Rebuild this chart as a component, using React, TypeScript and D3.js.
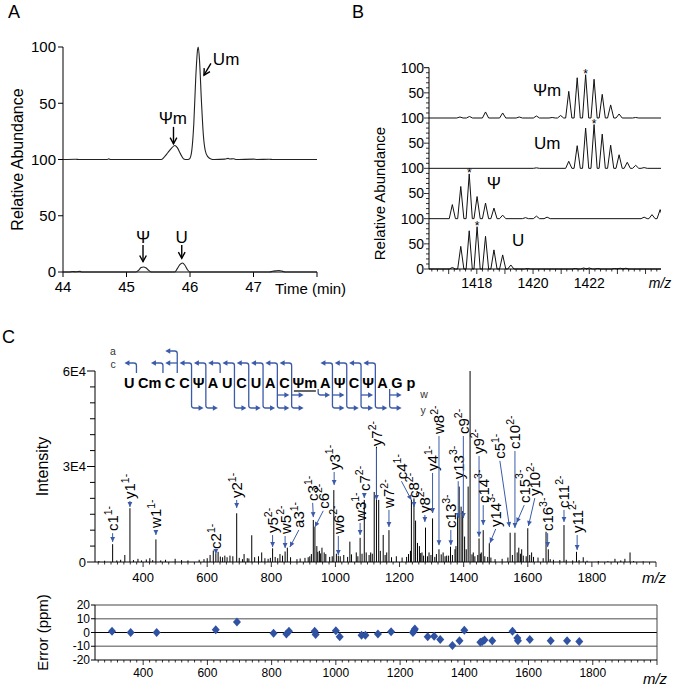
import React from "react";
import * as d3 from "d3";

const FONT = "'Liberation Sans', Arial, Helvetica, sans-serif";
const BLUE = "#3b5ba9";

// ---------- Panel A: chromatograms (time in min, relative abundance) ----------
const timeTicks = [44, 45, 46, 47, 48];
const timeTickLabels = ["44", "45", "46", "47", ""];
const abundanceTicks = [0, 50, 100, 150, 200];
const abundanceTickLabels = ["0", "50", "100", "50", "100"];

const chromModified: [number, number][] = [
  [44.0, 0], [44.2, 0.2], [44.25, 0], [44.7, 0], [44.72, 0.6], [44.75, 0], [45.5, 0],
  [45.55, 0], [45.6, 2.5], [45.65, 6], [45.7, 9.5], [45.76, 12.5], [45.8, 10.5], [45.85, 5],
  [45.9, 0.5], [45.95, 0], [45.99, 0.5], [46.02, 5], [46.06, 32], [46.09, 72], [46.12, 98],
  [46.13, 100], [46.15, 88], [46.18, 52], [46.21, 22], [46.24, 8], [46.28, 2.5], [46.33, 0.5],
  [46.38, 0], [46.55, 0.3], [46.6, 1], [46.63, 0.4], [46.68, 0.7], [46.72, 0], [47.0, 0.3],
  [47.05, 0], [47.25, 0.2], [47.3, 0], [48.0, 0],
];
const chromUnmodified: [number, number][] = [
  [44.0, 0], [44.1, 0], [44.15, 0.4], [44.2, 0.2], [44.27, 0.6], [44.3, 0], [45.15, 0],
  [45.19, 1.5], [45.23, 4], [45.27, 4.5], [45.31, 3.5], [45.35, 1.5], [45.39, 0], [45.76, 0],
  [45.8, 3], [45.84, 6.5], [45.88, 8], [45.92, 6], [45.96, 2], [46.0, 0], [47.25, 0],
  [47.3, 0.6], [47.35, 1], [47.4, 1.3], [47.45, 0.8], [47.5, 0], [48.0, 0],
];
const chromNotes = [
  { label: "Um", tx: 46.36, ty: 189.5, anchor: "start", from: [46.33, 185.5], to: [46.22, 175] },
  { label: "Ψm", tx: 45.73, ty: 137, anchor: "middle", from: [45.74, 129], to: [45.74, 114] },
  { label: "Ψ", tx: 45.26, ty: 31.4, anchor: "middle", from: [45.26, 24], to: [45.26, 9.2] },
  { label: "U", tx: 45.87, ty: 31.4, anchor: "middle", from: [45.87, 24], to: [45.87, 12.2] },
];

// ---------- Panel B: isotope envelopes (m/z, % relative) ----------
const isoNames = ["Ψm", "Um", "Ψ", "U"];
const isoPsiM: [number, number][] = [
  [1417.4, 2], [1417.74, 3], [1418.31, 12], [1418.92, 10], [1419.51, 2], [1420.12, 4],
  [1420.68, 1], [1420.98, 5], [1421.27, 53], [1421.57, 80], [1421.87, 86], [1422.17, 77],
  [1422.46, 47], [1422.76, 26], [1423.06, 8], [1423.65, 1],
];
const isoUm: [number, number][] = [
  [1420.12, 1], [1421.27, 14], [1421.57, 45], [1421.87, 80], [1422.17, 87], [1422.46, 68],
  [1422.76, 46], [1423.06, 27], [1423.35, 12], [1423.65, 6], [1423.95, 1.5],
];
const isoPsi: [number, number][] = [
  [1417.13, 28], [1417.43, 64], [1417.73, 89], [1418.01, 44], [1418.31, 31], [1418.61, 21],
  [1418.92, 7], [1419.73, 2], [1420.12, 5], [1420.5, 3], [1423.95, 3], [1424.23, 8], [1424.52, 18],
];
const isoU: [number, number][] = [
  [1417.13, 3], [1417.43, 45], [1417.73, 76], [1418.01, 84], [1418.31, 65], [1418.61, 38],
  [1418.92, 28], [1419.21, 8], [1419.8, 1], [1421.5, 1], [1421.8, 2], [1422.0, 2], [1422.3, 1],
  [1422.9, 1], [1423.1, 1.5], [1423.3, 1.5],
];
const isoStars = [1421.87, 1422.17, 1417.73, 1418.01];
const isoNamePos: [number, number][] = [[1420.5, 56], [1420.5, 50], [1418.61, 71], [1419.47, 58]];
const mzTicksB = [1418, 1420, 1422];

// ---------- Panel C: MS/MS spectrum ----------
const spectrumPeaks: [number, number][] = [
  [305, 5600], [343, 2200], [359, 16900], [384, 1000], [421, 1200], [440, 7100], [500, 1000],
  [609, 2200], [619, 3600], [627, 2600], [634, 3200], [648, 1500], [671, 2000], [680, 1800],
  [692, 15300], [715, 2500], [725, 1200], [739, 8400], [770, 3000], [790, 1000], [804, 4300],
  [827, 2500], [843, 3300], [850, 4500], [915, 1500], [925, 2500], [931, 13200], [936, 11000],
  [942, 5000], [950, 3500], [958, 4500], [965, 3000], [995, 22600], [1009, 2000], [1045, 6400],
  [1065, 3000], [1077, 7600], [1090, 19500], [1110, 3000], [1121, 22000], [1128, 36200],
  [1135, 19500], [1149, 8500], [1160, 3000], [1167, 10000], [1228, 2500], [1237, 19500],
  [1245, 20000], [1250, 13000], [1256, 6000], [1262, 5000], [1270, 3000], [1281, 10800],
  [1292, 3000], [1303, 13700], [1315, 2500], [1323, 4000], [1336, 3000], [1347, 2000],
  [1359, 4800], [1376, 5000], [1381, 14800], [1386, 23700], [1392, 17400], [1397, 16000],
  [1403, 8000], [1414, 23700], [1420, 60000], [1430, 3000], [1448, 7400], [1455, 3000],
  [1461, 10000], [1480, 5900], [1545, 9200], [1560, 9200], [1572, 4500], [1581, 4000],
  [1600, 10600], [1612, 3000], [1657, 9500], [1664, 4000], [1713, 11600], [1752, 3200],
  [1773, 1500], [1872, 1000], [1903, 1000], [1919, 3000],
];
const spectrumNoise: [number, number][] = [
  [262, 300], [280, 400], [318, 500], [330, 700], [370, 600], [395, 500], [410, 800], [430, 600],
  [455, 500], [470, 700], [520, 600], [540, 500], [575, 700], [590, 900], [600, 1200],
  [641, 1700], [655, 2000], [662, 1500], [700, 1300], [710, 900], [730, 1100], [748, 1500],
  [760, 1800], [780, 1200], [797, 1300], [812, 1600], [820, 1200], [835, 2000], [860, 1500],
  [880, 900], [890, 1100], [905, 1300], [920, 1800], [945, 3200], [953, 2700], [970, 2500],
  [982, 1600], [990, 1800], [1003, 2600], [1015, 1800], [1026, 2200], [1038, 1600],
  [1050, 2400], [1070, 1800], [1083, 2600], [1096, 3000], [1105, 2200], [1115, 2600],
  [1140, 3500], [1155, 2200], [1175, 1500], [1190, 1800], [1208, 1400], [1222, 1600],
  [1234, 3500], [1266, 2800], [1275, 2000], [1287, 1800], [1298, 2200], [1310, 1600],
  [1330, 2400], [1342, 1800], [1353, 2000], [1365, 2200], [1373, 4000], [1408, 4000],
  [1426, 2400], [1435, 1800], [1444, 2200], [1452, 2600], [1466, 1800], [1475, 1600],
  [1485, 1400], [1498, 900], [1520, 1000], [1538, 1400], [1552, 2200], [1567, 3000],
  [1577, 2600], [1586, 2000], [1595, 1800], [1606, 2200], [1618, 1600], [1632, 1400],
  [1648, 1200], [1670, 900], [1680, 700], [1700, 600], [1720, 700], [1740, 500], [1760, 600],
  [1785, 400], [1820, 300], [1850, 300], [1890, 500], [1930, 300], [1960, 200],
];
// ion, charge, tip m/z, tip intensity, text m/z, text-foot intensity
const fragmentLabels: [string, string, number, number, number, number][] = [
  ["c1", "1-", 305, 6300, 305, 9700],
  ["y1", "1-", 359, 17300, 359, 19800],
  ["w1", "1-", 440, 8500, 440, 10700],
  ["c2", "1-", 627, 2500, 627, 4100],
  ["y2", "1-", 692, 17000, 692, 20100],
  ["y5", "2-", 804, 4700, 804, 9100],
  ["w5", "2-", 843, 4400, 843, 8800],
  ["a3", "1-", 858, 4700, 886, 10700],
  ["c3", "1-", 931, 14100, 929, 19200],
  ["c6", "2-", 936, 11000, 962, 16700],
  ["y3", "1-", 996, 24200, 996, 28900],
  ["w6", "2-", 1009, 2200, 1009, 8800],
  ["w3", "1-", 1077, 8500, 1077, 12900],
  ["c7", "2-", 1090, 20100, 1090, 22300],
  ["y7", "2-", 1128, 19500, 1128, 36400],
  ["w7", "2-", 1167, 11000, 1167, 17000],
  ["c4", "1-", 1237, 19500, 1206, 26000],
  ["c8", "2-", 1245, 17300, 1245, 20100],
  ["y8", "2-", 1279, 12600, 1279, 15400],
  ["y4", "1-", 1303, 15400, 1303, 28600],
  ["w8", "2-", 1323, 5300, 1323, 40200],
  ["c13", "3-", 1360, 5300, 1360, 10700],
  ["y13", "3-", 1383, 13800, 1383, 26000],
  ["c9", "2-", 1399, 13800, 1399, 40200],
  ["y9", "2-", 1448, 7900, 1448, 33900],
  ["c14", "3-", 1461, 11600, 1461, 18500],
  ["y14", "3-", 1482, 6000, 1500, 11000],
  ["c5", "1-", 1543, 11000, 1513, 32400],
  ["c10", "2-", 1560, 10700, 1560, 35500],
  ["c15", "3-", 1565, 12300, 1589, 18500],
  ["y10", "2-", 1602, 11300, 1622, 20700],
  ["c16", "3-", 1662, 4700, 1662, 9700],
  ["c11", "2-", 1713, 12600, 1713, 17000],
  ["y11", "2-", 1754, 3800, 1754, 9100],
];
const mzTicksC = [400, 600, 800, 1000, 1200, 1400, 1600, 1800];
const intensityTicks = [0, 30000, 60000];
const intensityTickLabels = ["0", "3E4", "6E4"];

// sequence and observed cleavages (ion number)
const residues = ["U", "Cm", "C", "C", "Ψ", "A", "U", "C", "U", "A", "C", "Ψm", "A", "Ψ", "C", "Ψ", "A", "G"];
const aIons = [3];
const cIons = [1, 2, 3, 4, 5, 6, 7, 8, 9, 10, 11, 13, 14, 15, 16];
const wIons = [1, 3, 5, 6, 7, 8];
const yIons = [1, 2, 3, 4, 5, 7, 8, 9, 10, 11, 13, 14];

// ---------- Error panel (m/z, ppm) ----------
const errorPoints: [number, number][] = [
  [303, 1], [361, 0], [442, 0], [626, 2], [692, 7.6], [806, -0.5], [846, -1], [854, 1],
  [934, 1], [937, -1.5], [1000, 1.2], [1012, -3], [1080, -2], [1092, -2], [1131, -1],
  [1172, 0.5], [1240, 0], [1244, 1.5], [1246, 2.5], [1286, -3], [1306, -2.7], [1325, -5],
  [1363, -9.5], [1385, -6], [1400, 1.7], [1450, -7], [1456, -6.5], [1463, -5.5], [1487, -6],
  [1550, 1], [1565, -4], [1567, -6], [1604, -5], [1669, -6], [1720, -6], [1758, -6.5],
];
const errorTicks = [-20, -10, 0, 10, 20];

function head(x1: number, y1: number, x2: number, y2: number, len = 5, half = 2.6) {
  const a = Math.atan2(y2 - y1, x2 - x1);
  const bx = x2 - len * Math.cos(a);
  const by = y2 - len * Math.sin(a);
  return `M${x2},${y2}L${bx + half * Math.sin(a)},${by - half * Math.cos(a)}L${bx - half * Math.sin(a)},${by + half * Math.cos(a)}Z`;
}
function openHead(x1: number, y1: number, x2: number, y2: number, len = 7) {
  const a = Math.atan2(y2 - y1, x2 - x1);
  const p = (d: number) => `${x2 - len * Math.cos(a + d)},${y2 - len * Math.sin(a + d)}`;
  return `M${p(0.5)}L${x2},${y2}L${p(-0.5)}`;
}

function PanelA() {
  const x = d3.scaleLinear().domain([44, 48]).range([63, 317]);
  const y = d3.scaleLinear().domain([0, 200]).range([272, 47]);
  const upper = d3.line<[number, number]>().x((d) => x(d[0])).y((d) => y(100 + d[1])).curve(d3.curveMonotoneX);
  const lower = d3.line<[number, number]>().x((d) => x(d[0])).y((d) => y(d[1])).curve(d3.curveMonotoneX);
  return (
    <g>
      <text x={8} y={18} fontSize={18}>A</text>
      <text transform={`translate(23,${y(100)}) rotate(-90)`} textAnchor="middle" fontSize={16}>Relative Abundance</text>
      <line x1={x(44)} x2={x(44)} y1={y(200)} y2={y(0)} stroke="#000" />
      <line x1={x(44)} x2={x(48)} y1={y(0)} y2={y(0)} stroke="#000" />
      {abundanceTicks.map((t, i) => (
        <g key={t}>
          <line x1={x(44) - 5} x2={x(44)} y1={y(t)} y2={y(t)} stroke="#000" />
          <text x={x(44) - 7} y={y(t)} dy="0.35em" textAnchor="end" fontSize={15}>{abundanceTickLabels[i]}</text>
        </g>
      ))}
      {timeTicks.map((t, i) => (
        <g key={t}>
          <line x1={x(t)} x2={x(t)} y1={y(0)} y2={y(0) + 5} stroke="#000" />
          <text x={x(t)} y={y(0) + 20} textAnchor="middle" fontSize={15}>{timeTickLabels[i]}</text>
        </g>
      ))}
      <text x={275} y={y(0) + 22} fontSize={15}>Time (min)</text>
      <path d={upper(chromModified) || ""} fill="none" stroke="#222" strokeWidth={1.1} />
      <path d={lower(chromUnmodified) || ""} fill="none" stroke="#222" strokeWidth={1.1} />
      {chromNotes.map((n) => {
        const x1 = x(n.from[0]), y1 = y(n.from[1]), x2 = x(n.to[0]), y2 = y(n.to[1]);
        return (
          <g key={n.label}>
            <text x={x(n.tx)} y={y(n.ty)} dy="0.35em" textAnchor={n.anchor} fontSize={17}>{n.label}</text>
            <line x1={x1} y1={y1} x2={x2} y2={y2} stroke="#000" strokeWidth={1.4} />
            <path d={openHead(x1, y1, x2, y2)} fill="none" stroke="#000" strokeWidth={1.4} />
          </g>
        );
      })}
    </g>
  );
}

function PanelB() {
  const x = d3.scaleLinear().domain([1416.3, 1424.55]).range([429, 661]);
  const base = d3.scaleLinear().domain([0, 3]).range([118, 269]);
  const h = d3.scaleLinear().domain([0, 100]).range([0, 50.3]);
  const traces = [isoPsiM, isoUm, isoPsi, isoU];
  const [d0, d1] = x.domain();
  const minorY = d3.range(0, 100, 10);
  return (
    <g>
      <text x={352} y={18} fontSize={18}>B</text>
      <text transform={`translate(385,${base(1.5)}) rotate(-90)`} textAnchor="middle" fontSize={15}>Relative Abundance</text>
      <defs>
        <clipPath id="clipB"><rect x={429} y={50} width={232} height={220} /></clipPath>
      </defs>
      {traces.map((peaks, k) => {
        const b = base(k);
        const pts: [number, number][] = [[d0, 0]];
        peaks.forEach(([m, v]) => { pts.push([m - 0.11, 0], [m, v], [m + 0.11, 0]); });
        pts.push([d1, 0]);
        const ln = d3.line<[number, number]>().x((d) => x(d[0])).y((d) => b - h(d[1]));
        const star = peaks.find((p) => p[0] === isoStars[k]);
        return (
          <g key={k}>
            <path d={ln(pts) || ""} fill="none" stroke="#111" strokeWidth={1} clipPath="url(#clipB)" />
            {star && <text x={x(star[0])} y={b - h(star[1]) + 3} textAnchor="middle" fontSize={12}>*</text>}
            <text x={x(isoNamePos[k][0])} y={b - h(isoNamePos[k][1])} dy="0.35em" textAnchor="middle" fontSize={17}>{isoNames[k]}</text>
            {minorY.map((v) => (
              <line key={v} x1={v % 50 === 0 ? 424 : 426} x2={429} y1={b - h(v)} y2={b - h(v)} stroke="#000" strokeWidth={0.8} />
            ))}
            <text x={424} y={b - h(100)} dy="0.35em" textAnchor="end" fontSize={14}>100</text>
            <text x={424} y={b - h(50)} dy="0.35em" textAnchor="end" fontSize={14}>50</text>
          </g>
        );
      })}
      <line x1={424} x2={429} y1={base(0) - h(100)} y2={base(0) - h(100)} stroke="#000" />
      <text x={424} y={base(3)} dy="0.35em" textAnchor="end" fontSize={14}>0</text>
      <line x1={429} x2={429} y1={base(0) - h(100)} y2={base(3)} stroke="#000" />
      <line x1={429} x2={661} y1={base(3)} y2={base(3)} stroke="#000" />
      {d3.range(1416.4, 1424.6, 0.2).map((t) => (
        <line key={t} x1={x(t)} x2={x(t)} y1={base(3)} y2={base(3) + (Math.abs(t - Math.round(t)) < 0.01 ? 5 : 2.5)} stroke="#000" strokeWidth={0.8} />
      ))}
      {mzTicksB.map((t) => (
        <text key={t} x={x(t)} y={base(3) + 19} textAnchor="middle" fontSize={14}>{t}</text>
      ))}
      <text x={660} y={base(3) + 19} textAnchor="middle" fontSize={14} fontStyle="italic">m/z</text>
    </g>
  );
}

function Sequence() {
  const single = 14.3;
  const widths = residues.map((r) => (r.length > 1 ? 26.5 : single));
  const starts = [0, ...Array.from(d3.cumsum(widths))].map((v) => 122.15 + v);
  const rowA = 351, rowC = 363, rowW = 395, rowY = 408, letterTop = 373, letterBottom = 389, r = 2.5;
  const n = residues.length;
  const parts: React.ReactNode[] = [];
  for (let b = 1; b < n; b++) {
    const bx = starts[b];
    const hasA = aIons.includes(b), hasC = cIons.includes(b);
    const hasW = wIons.includes(n - b), hasY = yIons.includes(n - b);
    if (!hasA && !hasC && !hasW && !hasY) continue;
    const top = hasA ? rowA : hasC ? rowC : null;
    const bottom = hasY ? rowY : hasW ? rowW : null;
    let d = "";
    if (top !== null) d += `M${bx - 8},${top}H${bx - r}Q${bx},${top} ${bx},${top + r}`;
    else d += `M${bx},${letterBottom}`;
    if (bottom !== null) d += `V${bottom - r}Q${bx},${bottom} ${bx + r},${bottom}H${bx + 8}`;
    else d += `V${letterTop}`;
    parts.push(<path key={`p${b}`} d={d} fill="none" stroke={BLUE} strokeWidth={1.3} />);
    const rows: [number, number][] = [];
    if (top !== null) rows.push([top, -1]);
    if (hasA && hasC) {
      parts.push(<line key={`c${b}`} x1={bx} x2={bx - 8} y1={rowC} y2={rowC} stroke={BLUE} strokeWidth={1.3} />);
      rows.push([rowC, -1]);
    }
    if (bottom !== null) rows.push([bottom, 1]);
    if (hasY && hasW) {
      parts.push(<line key={`w${b}`} x1={bx} x2={bx + 8} y1={rowW} y2={rowW} stroke={BLUE} strokeWidth={1.3} />);
      rows.push([rowW, 1]);
    }
    rows.forEach(([ry, dir], i) => {
      const tip = bx + dir * 12;
      parts.push(<path key={`h${b}-${i}`} d={head(bx, ry, tip, ry, 5, 2.8)} fill={BLUE} />);
    });
  }
  return (
    <g>
      {parts}
      {residues.map((res, i) => {
        const cx = starts[i] + widths[i] / 2;
        return (
          <g key={i}>
            <text x={cx} y={387.5} textAnchor="middle" fontSize={14.5} fontWeight="bold">{res}</text>
            {res === "Ψm" && <line x1={cx - 11} x2={cx + 11} y1={391} y2={391} stroke="#000" strokeWidth={1.2} />}
          </g>
        );
      })}
      <text x={starts[n] + 7} y={387.5} textAnchor="middle" fontSize={14.5} fontWeight="bold">p</text>
      <text x={113} y={351} dy="0.35em" textAnchor="middle" fontSize={10.5} fill="#333">a</text>
      <text x={113} y={364} dy="0.35em" textAnchor="middle" fontSize={10.5} fill="#333">c</text>
      <text x={424} y={394} dy="0.35em" textAnchor="middle" fontSize={10.5} fill="#333">w</text>
      <text x={423} y={410} dy="0.35em" textAnchor="middle" fontSize={10.5} fill="#333">y</text>
    </g>
  );
}

function PanelC() {
  const x = d3.scaleLinear().domain([250, 2000]).range([95, 656]);
  const y = d3.scaleLinear().domain([0, 60000]).range([562, 371]);
  return (
    <g>
      <text x={2} y={343} fontSize={18}>C</text>
      <text transform={`translate(48,${y(30000)}) rotate(-90)`} textAnchor="middle" fontSize={16}>Intensity</text>
      {[...spectrumNoise, ...spectrumPeaks].map(([m, v], i) => (
        <line key={i} x1={x(m)} x2={x(m)} y1={y(0)} y2={y(v)} stroke="#000" strokeWidth={1} />
      ))}
      <line x1={95} x2={95} y1={y(60000)} y2={y(0)} stroke="#000" />
      <line x1={95} x2={656} y1={y(0)} y2={y(0)} stroke="#000" />
      {d3.range(0, 60001, 5000).map((t) => (
        <line key={t} x1={t % 30000 === 0 ? 87 : 90} x2={95} y1={y(t)} y2={y(t)} stroke="#000" />
      ))}
      {intensityTicks.map((t, i) => (
        <text key={t} x={86} y={y(t)} dy="0.35em" textAnchor="end" fontSize={13}>{intensityTickLabels[i]}</text>
      ))}
      {d3.range(260, 2001, 20).map((t) => (
        <line key={t} x1={x(t)} x2={x(t)} y1={y(0)} y2={y(0) + (t % 200 === 0 ? 5 : 2.5)} stroke="#000" strokeWidth={0.8} />
      ))}
      {mzTicksC.map((t) => (
        <text key={t} x={x(t)} y={582} textAnchor="middle" fontSize={13}>{t}</text>
      ))}
      <text x={654} y={583} textAnchor="middle" fontSize={15} fontStyle="italic">m/z</text>
      {fragmentLabels.map(([ion, z, tm, ti, lm, li]) => {
        const x1 = x(lm), y1 = y(li) + 2, x2 = x(tm), y2 = y(ti);
        return (
          <g key={ion}>
            <text transform={`translate(${x(lm)},${y(li)}) rotate(-90)`} dy="0.36em" fontSize={15}>
              {ion}
              <tspan fontSize={10.5} dy="-0.6em">{z}</tspan>
            </text>
            <line x1={x1} y1={y1} x2={x2} y2={y2} stroke={BLUE} strokeWidth={1} />
            <path d={head(x1, y1, x2, y2, 5, 2.4)} fill={BLUE} />
          </g>
        );
      })}
      <Sequence />
    </g>
  );
}

function ErrorPanel() {
  const x = d3.scaleLinear().domain([250, 2000]).range([95, 657]);
  const y = d3.scaleLinear().domain([-20, 20]).range([660, 605]);
  return (
    <g>
      <text transform={`translate(48,${y(0)}) rotate(-90)`} textAnchor="middle" fontSize={15}>Error (ppm)</text>
      {[-10, 10].map((t) => (
        <line key={t} x1={95} x2={657} y1={y(t)} y2={y(t)} stroke="#888" strokeWidth={1.6} />
      ))}
      <line x1={95} x2={657} y1={y(0)} y2={y(0)} stroke="#000" />
      <line x1={95} x2={657} y1={y(20)} y2={y(20)} stroke="#444" />
      <line x1={657} x2={657} y1={y(20)} y2={y(-20)} stroke="#444" />
      <line x1={95} x2={95} y1={y(20)} y2={y(-20)} stroke="#000" />
      <line x1={95} x2={657} y1={y(-20)} y2={y(-20)} stroke="#000" />
      {errorTicks.map((t) => (
        <g key={t}>
          <line x1={91} x2={95} y1={y(t)} y2={y(t)} stroke="#000" />
          <text x={90} y={y(t)} dy="0.35em" textAnchor="end" fontSize={12}>{t}</text>
        </g>
      ))}
      {d3.range(260, 2001, 20).map((t) => (
        <line key={t} x1={x(t)} x2={x(t)} y1={y(-20)} y2={y(-20) + (t % 200 === 0 ? 5 : 2.5)} stroke="#000" strokeWidth={0.8} />
      ))}
      {mzTicksC.map((t) => (
        <text key={t} x={x(t)} y={677} textAnchor="middle" fontSize={12}>{t}</text>
      ))}
      <text x={655} y={684} textAnchor="middle" fontSize={15} fontStyle="italic">m/z</text>
      {errorPoints.map(([m, e], i) => {
        const cx = x(m), cy = y(e);
        return <path key={i} d={`M${cx},${cy - 4.5}L${cx + 4},${cy}L${cx},${cy + 4.5}L${cx - 4},${cy}Z`} fill="#2f52a3" />;
      })}
    </g>
  );
}

export default function App() {
  return (
    <svg width={678} height={689} style={{ position: "absolute", left: 0, top: 0, background: "#fff" }} fontFamily={FONT}>
      <PanelA />
      <PanelB />
      <PanelC />
      <ErrorPanel />
    </svg>
  );
}
